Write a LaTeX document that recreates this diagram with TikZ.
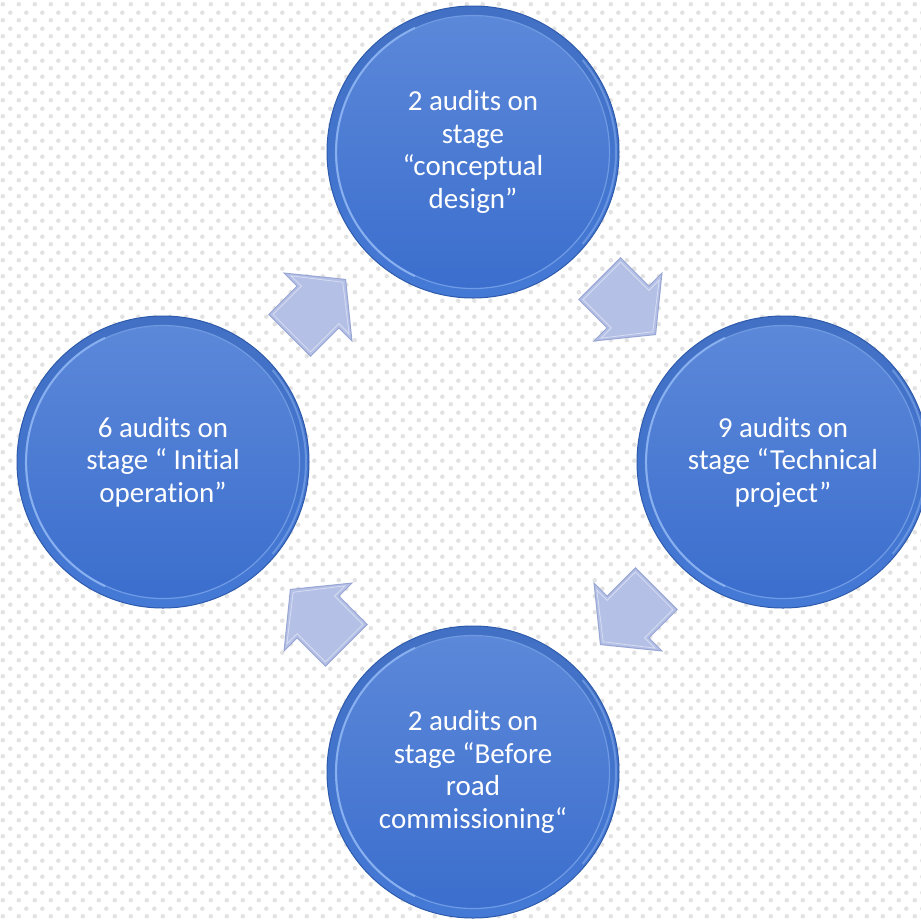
\documentclass[tikz,border=0pt]{standalone}
\usepackage{fontspec}
\setmainfont{Carlito}[Ligatures={NoCommon}]
\usetikzlibrary{patterns.meta,calc}
\definecolor{dotgray}{HTML}{E2E2E2}
\definecolor{rimdark}{HTML}{2E5AAB}
\definecolor{rimtop}{HTML}{4270C4}
\definecolor{rimbot}{HTML}{4479D6}
\definecolor{intop}{HTML}{5D89D9}
\definecolor{inbot}{HTML}{3A6DCD}
\definecolor{hilite}{HTML}{8DB4F2}
\definecolor{arrowfill}{HTML}{B4C0E6}
\definecolor{arrowedge}{HTML}{98A6D4}
\tikzdeclarepattern{
  name=bgdots,
  type=uncolored,
  bounding box={(0pt,0pt) and (16pt,16pt)},
  tile size={(16pt,16pt)},
  code={
    \fill (4pt,4pt) circle (2.4pt);
    \fill (12pt,12pt) circle (2.4pt);
  }
}
\tikzset{
  stage/.style={circle, minimum size=292pt, inner sep=0pt,
    draw=rimdark, line width=1pt, top color=rimtop, bottom color=rimbot,
    text=white, align=center, font=\fontsize{29}{32.5}\selectfont,
    path picture={
      \shade[top color=intop, bottom color=inbot]
        (path picture bounding box.center) circle (136pt);
      \draw[hilite, line width=1.2pt, opacity=0.6]
        (path picture bounding box.center) circle (136.5pt);
      \draw[hilite, line width=2pt, opacity=0.9]
        ($(path picture bounding box.center)+(115:137pt)$) arc (115:245:137pt);
      \draw[hilite, line width=2pt, opacity=0.5]
        ($(path picture bounding box.center)+(-40:143pt)$) arc (-40:40:143pt);
    }},
  blockarrow/.style={fill=arrowfill, draw=arrowedge, line width=1pt, line join=miter}
}
\newcommand{\blockarrowat}[2]{%
  \draw[blockarrow, shift={(#1)}, rotate=#2]
    (-40pt,-29.5pt) -- (0pt,-29.5pt) -- (0pt,-48pt) -- (39pt,0pt)
    -- (0pt,48pt) -- (0pt,29.5pt) -- (-40pt,29.5pt) -- cycle;
  \draw[white, opacity=0.45, line width=0.8pt, shift={(#1)}, rotate=#2]
    (-37pt,-26.5pt) -- (3pt,-26.5pt) -- (3pt,-41pt) -- (35pt,0pt)
    -- (3pt,41pt) -- (3pt,26.5pt) -- (-37pt,26.5pt) -- cycle;}
\begin{document}
\begin{tikzpicture}[x=1pt,y=1pt]
\useasboundingbox (0,0) rectangle (921,-919);
\clip (0,0) rectangle (921,-919);
\fill[white] (0,0) rectangle (921,-919);
\fill[pattern=bgdots, pattern color=dotgray] (0,0) rectangle (921,-919);

\node[stage] (conc) at (473,-152) {2 audits on\\stage\\“conceptual\\design”};
\node[stage] (tech) at (783,-462) {9 audits on\\stage “Technical\\project”};
\node[stage] (road) at (473,-772) {2 audits on\\stage “Before\\road\\commissioning“};
\node[stage] (init) at (163,-462) {6 audits on\\stage “ Initial\\operation”};

\coordinate (m1) at ($(conc.center)!0.5!(tech.center)$);
\coordinate (m2) at ($(tech.center)!0.5!(road.center)$);
\coordinate (m3) at ($(road.center)!0.5!(init.center)$);
\coordinate (m4) at ($(init.center)!0.5!(conc.center)$);

\blockarrowat{m1}{-45}
\blockarrowat{m2}{-135}
\blockarrowat{m3}{135}
\blockarrowat{m4}{45}
\end{tikzpicture}
\end{document}
